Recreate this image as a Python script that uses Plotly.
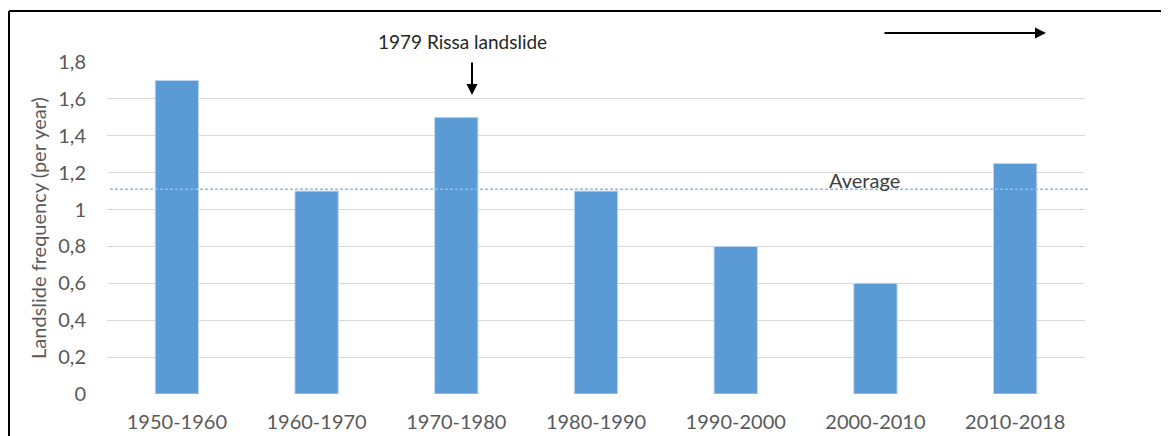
import plotly.graph_objects as go

categories = ["1950-1960", "1960-1970", "1970-1980", "1980-1990", "1990-2000", "2000-2010", "2010-2018"]
frequency = [1.7, 1.1, 1.5, 1.1, 0.8, 0.6, 1.25]
average_value = 1.11
y_tickvals = [0, 0.2, 0.4, 0.6, 0.8, 1.0, 1.2, 1.4, 1.6, 1.8]
y_ticktext = ["0", "0,2", "0,4", "0,6", "0,8", "1", "1,2", "1,4", "1,6", "1,8"]

OFF = 8  # default page body margin
W, H = 1169 - OFF, 436 - OFF
L, R, T, B = 107 - OFF, 84, 62 - OFF, 42
pw, ph = W - L - R, H - T - B

def px(x):
    # page pixel x -> paper coordinate
    return (x - OFF - L) / pw

def py(y):
    return (H - B - (y - OFF)) / ph

font_family = "Lato, 'Open Sans', sans-serif"
grey = "#595959"

fig = go.Figure()
fig.add_trace(go.Bar(
    x=categories, y=frequency,
    marker=dict(color="#5b9bd5", line=dict(color="#bdd7ee", width=1)),
    width=0.31,
))

fig.add_shape(type="line", xref="paper", yref="y",
              x0=px(110), x1=px(1090), y0=average_value, y1=average_value,
              line=dict(color="#8fbbe6", width=1.3, dash="3px,2px"), layer="above")

# border lines
fig.add_shape(type="line", xref="paper", yref="paper",
              x0=px(9), x1=px(9), y0=py(11), y1=py(445),
              line=dict(color="black", width=2))
fig.add_shape(type="line", xref="paper", yref="paper",
              x0=px(9), x1=px(1180), y0=py(11), y1=py(11),
              line=dict(color="black", width=2))

fig.add_annotation(xref="paper", yref="paper", x=px(462), y=py(42),
                   xanchor="center", yanchor="middle",
                   text="1979 Rissa landslide", showarrow=False,
                   font=dict(family=font_family, size=19, color="#262626"))
fig.add_annotation(xref="paper", yref="paper", x=px(472), y=py(95),
                   ax=0, ay=-34, text="", showarrow=True,
                   arrowhead=2, arrowsize=1.1, arrowwidth=2, arrowcolor="black")
fig.add_annotation(xref="paper", yref="paper", x=px(1046), y=py(33),
                   ax=-163, ay=0, text="", showarrow=True,
                   arrowhead=2, arrowsize=1.1, arrowwidth=2, arrowcolor="black")
fig.add_annotation(xref="paper", yref="paper", x=px(864), y=py(180),
                   xanchor="center", yanchor="middle",
                   text="Average", showarrow=False,
                   font=dict(family=font_family, size=20, color="#404040"))

fig.update_layout(
    width=W, height=H,
    margin=dict(l=L, r=R, t=T, b=B),
    paper_bgcolor="white", plot_bgcolor="white",
    showlegend=False,
    font=dict(family=font_family, color=grey, size=20),
    xaxis=dict(showline=False, ticks="", tickfont=dict(size=20, color=grey),
               ticklabelstandoff=14, automargin=False),
    yaxis=dict(range=[0, 1.8], tickvals=y_tickvals, ticktext=y_ticktext,
               showgrid=True, gridcolor="#d9d9d9", gridwidth=1,
               zeroline=False, showline=False, ticks="",
               tickfont=dict(size=20, color=grey), ticklabelstandoff=20,
               automargin=False,
               title=dict(text="Landslide frequency (per year)", standoff=6,
                          font=dict(size=20, color=grey))),
)

fig.write_html("out.html")
